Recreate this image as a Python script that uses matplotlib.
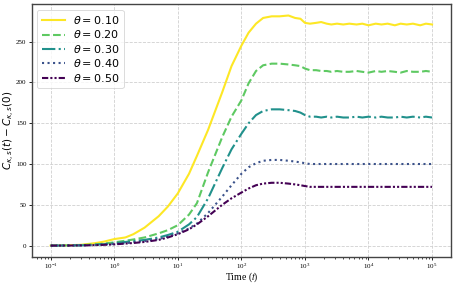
import matplotlib
matplotlib.use('Agg')
from matplotlib import pyplot as plt
from matplotlib.font_manager import FontProperties
import matplotlib.cm as cm

plt.rcParams['font.family'] = ['Liberation Serif', 'DejaVu Serif']
plt.rcParams['mathtext.fontset'] = 'stix'

thetas = [0.10, 0.20, 0.30, 0.40, 0.50]

t = [0.1, 0.2, 0.3, 0.5, 0.7, 1, 1.5, 2, 3, 5, 7, 10, 15, 20, 30, 50, 70,
     100, 130, 170, 220, 300, 400, 550, 700, 850, 1000, 1200, 1500, 1800,
     2200, 2600, 3200, 4000, 5000, 6500, 8000, 10000, 13000, 16000, 20000,
     26000, 32000, 40000, 50000, 65000, 80000, 100000]

c_010 = [0, 0.5, 1, 3, 5, 8, 10, 14, 22, 36, 48, 64, 88, 110, 142, 188, 220,
         245, 261, 272, 279, 281, 281, 282, 279, 278, 273, 272, 273, 274,
         272, 271, 272, 271, 272, 271, 272, 270, 272, 271, 272, 270, 272,
         271, 272, 270, 272, 271]
c_020 = [0, 0.3, 0.6, 1.5, 2.5, 4, 6, 7.5, 10, 15, 19, 25, 38, 52, 90, 133,
         158, 178, 199, 214, 221, 223, 223, 222, 221, 220, 217, 215, 215,
         214, 214, 213, 214, 213, 213, 214, 213, 212, 214, 213, 214, 213,
         212, 214, 213, 213, 214, 213]
c_030 = [0, 0.2, 0.4, 1, 1.8, 3, 4.5, 5.5, 7, 10, 13, 17, 26, 35, 58, 95,
         118, 137, 150, 160, 165, 167, 167, 166, 165, 163, 160, 158, 158,
         157, 158, 157, 158, 157, 157, 158, 157, 158, 157, 158, 157, 157,
         158, 157, 158, 157, 158, 157]
c_040 = [0, 0.1, 0.3, 0.8, 1.3, 2, 3, 4, 5.5, 8, 11, 15, 21, 27, 40, 60, 74,
         88, 96, 101, 104, 105, 105, 104, 103, 102, 101, 100, 100, 100, 100,
         100, 100, 100, 100, 100, 100, 100, 100, 100, 100, 100, 100, 100,
         100, 100, 100, 100]
c_050 = [0, 0.1, 0.2, 0.6, 1, 1.5, 2.5, 3.2, 4.5, 7, 10, 14, 20, 26, 36, 50,
         58, 65, 70, 74, 76, 77, 77, 76, 75, 74, 73, 72, 72, 72, 72, 72, 72,
         72, 72, 72, 72, 72, 72, 72, 72, 72, 72, 72, 72, 72, 72, 72]

series = [c_010, c_020, c_030, c_040, c_050]
styles = ['-', '--', '-.', ':', (0, (3, 1, 1, 1, 1, 1))]
colors = [cm.viridis(v) for v in [1.0, 0.75, 0.5, 0.25, 0.0]]


def main():
    fig = plt.figure(figsize=(4.58, 2.86), dpi=100)
    ax = fig.add_axes([0.069, 0.101, 0.916, 0.885])

    for th, y, ls, c in zip(thetas, series, styles, colors):
        ax.plot(t, y, linestyle=ls, color=c, lw=1.5,
                label=r'$\theta = %.2f$' % th)

    ax.set_xscale('log')
    ax.grid(True, linestyle='--', color='#d0d0d0', lw=0.6)
    ax.tick_params(labelsize=5, length=2.5, width=0.6)
    ax.tick_params(axis='x', pad=0.8)
    ax.tick_params(axis='y', pad=1.2)
    ax.tick_params(which='minor', length=1.5, width=0.5)
    for s in ax.spines.values():
        s.set_color('#444444')
        s.set_linewidth(1.0)

    ax.set_xlabel(r'Time ($t$)', fontsize=7, va='top')
    ax.xaxis.set_label_coords(0.5, -0.054)
    ax.set_ylabel(r'$C_{\kappa,s}(t) - C_{\kappa,s}(0)$', fontsize=7.5,
                  math_fontfamily='dejavusans')
    ax.yaxis.set_label_coords(-0.035, 0.5)
    leg = ax.legend(loc='upper left',
                    prop=FontProperties(size=8, math_fontfamily='dejavusans'),
                    handlelength=2.1, handletextpad=0.7, borderpad=0.4,
                    labelspacing=0.22)
    leg.get_frame().set_linewidth(0.6)

    fig.savefig('out.png', dpi=100)


if __name__ == '__main__':
    main()
